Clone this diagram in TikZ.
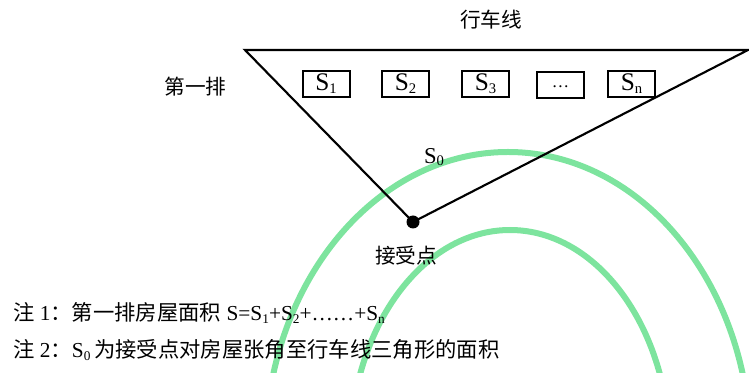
\documentclass[tikz,border=0pt]{standalone}
\usepackage{fontspec}
\setmainfont{Liberation Serif}
\newfontfamily\cjk{Noto Sans CJK SC}
\definecolor{wmgreen}{RGB}{125,228,158}
\newcommand\subs[2][9]{\raisebox{-0.25ex}{\fontsize{#1}{#1}\selectfont #2}}
\begin{document}
\begin{tikzpicture}[x=0.75pt,y=-0.75pt,
  edge/.style={line width=1.6pt,line join=miter},
  housebox/.style={draw,line width=1.5pt,minimum width=35.25pt,minimum height=19.5pt,inner sep=0pt,font=\fontsize{19}{19}\selectfont},
  cjklabel/.style={font=\cjk\fontsize{15.5}{18}\selectfont,inner sep=0pt},
  note/.style={font=\fontsize{16}{19}\selectfont,anchor=west,inner sep=0pt},
  wm/.style={draw=wmgreen,line width=4.5pt}]
\useasboundingbox (0,0) rectangle (749,373);
% watermark arcs
\begin{scope}
  \clip (0,0) rectangle (749,373);
  \draw[wm] (508,450) ellipse [x radius=182pt, y radius=223.5pt];
  \draw[wm] (510,452) ellipse [x radius=120pt, y radius=166.5pt];
\end{scope}
% triangle
\coordinate (tl) at (245,50);
\coordinate (tr) at (748,50);
\node[circle,fill=black,minimum size=9.75pt,inner sep=0pt] (rp) at (413,222) {};
\draw[edge] (tr) -- (tl) -- (rp.center) -- cycle;
% houses
\node[housebox] (s1) at (326,84) {S\subs[11]{1}};
\node[housebox] (s2) at (405.5,84) {S\subs[11]{2}};
\node[housebox] (s3) at (485.5,84) {S\subs[11]{3}};
\node[housebox,font=\fontsize{13}{13}\selectfont] (sd) at (560.5,85) {\raisebox{-0.6ex}{…}};
\node[housebox] (sn) at (631.5,84) {S\subs[11]{n}};
% labels
\node[cjklabel] (road) at (491,20) {行车线};
\node[cjklabel] (row) at (195.5,87) {第一排};
\node[font=\fontsize{17}{17}\selectfont,inner sep=0pt] (s0) at (434,157) {S\subs[11]{0}};
\node[cjklabel] (rl) at (406,256) {接受点};
% notes
\node[note] (n1) at (13,313) {{\cjk 注} 1{\cjk ：第一排房屋面积} S=S\subs[10]{1}+S\subs[10]{2}+……+S\subs[10]{n}};
\node[note] (n2) at (13,350) {{\cjk 注} 2{\cjk ：}S\subs[10]{0}\,{\cjk 为接受点对房屋张角至行车线三角形的面积}};
\end{tikzpicture}
\end{document}
